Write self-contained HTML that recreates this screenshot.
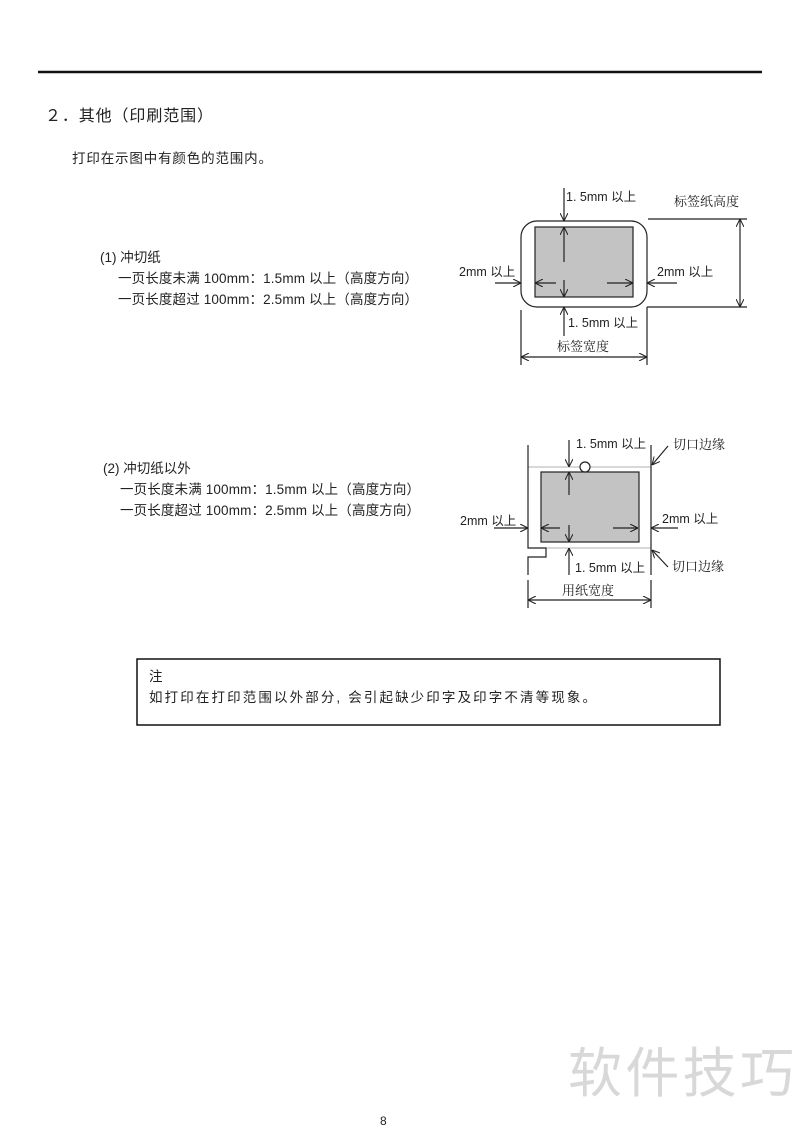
<!DOCTYPE html>
<html><head><meta charset="utf-8"><style>
html,body{margin:0;padding:0;background:#fff;}
svg{display:block;}
text{font-family:"Liberation Sans","Noto Sans CJK SC",sans-serif;fill:#222;}
.s{font-family:"Liberation Serif","Noto Serif CJK SC",serif;}
</style></head><body>
<svg width="800" height="1132" viewBox="0 0 800 1132" xmlns="http://www.w3.org/2000/svg">
<defs>
<marker id="a" viewBox="0 0 10 10" refX="10" refY="5" markerWidth="8" markerHeight="8" orient="auto-start-reverse" markerUnits="userSpaceOnUse"><path d="M0,0 L10,5 L0,10" fill="none" stroke="#222" stroke-width="1.3"/></marker>
</defs>
<line x1="38" y1="72" x2="762" y2="72" stroke="#111" stroke-width="2.5"/>
<text x="45" y="121" font-size="16" textLength="168">２．其他（印刷范围）</text>
<text x="72" y="163" font-size="13.5" textLength="200">打印在示图中有颜色的范围内。</text>

<text x="100" y="262" font-size="13.5">(1) 冲切纸</text>
<text x="118" y="283" font-size="13.5" textLength="300">一页长度未满 100mm：1.5mm 以上（高度方向）</text>
<text x="118" y="304" font-size="13.5" textLength="300">一页长度超过 100mm：2.5mm 以上（高度方向）</text>

<text x="103" y="473" font-size="13.5">(2)  冲切纸以外</text>
<text x="120" y="494" font-size="13.5" textLength="300">一页长度未满 100mm：1.5mm 以上（高度方向）</text>
<text x="120" y="515" font-size="13.5" textLength="300">一页长度超过 100mm：2.5mm 以上（高度方向）</text>

<!-- Diagram 1 -->
<g stroke="#222" stroke-width="1.2" fill="none">
<rect x="521" y="221" width="126" height="86" rx="16"/>
<rect x="535" y="227" width="98" height="70" fill="#c3c3c3"/>
<line x1="564" y1="188" x2="564" y2="221" marker-end="url(#a)"/>
<line x1="564" y1="262" x2="564" y2="227" marker-end="url(#a)"/>
<line x1="564" y1="280" x2="564" y2="297" marker-end="url(#a)"/>
<line x1="564" y1="336" x2="564" y2="307" marker-end="url(#a)"/>
<line x1="495" y1="283" x2="521" y2="283" marker-end="url(#a)"/>
<line x1="556" y1="283" x2="535" y2="283" marker-end="url(#a)"/>
<line x1="607" y1="283" x2="633" y2="283" marker-end="url(#a)"/>
<line x1="677" y1="283" x2="647" y2="283" marker-end="url(#a)"/>
<line x1="648" y1="219" x2="747" y2="219"/>
<line x1="647" y1="307" x2="747" y2="307"/>
<line x1="740" y1="219" x2="740" y2="307" marker-start="url(#a)" marker-end="url(#a)"/>
<line x1="521" y1="310" x2="521" y2="365"/>
<line x1="647" y1="307" x2="647" y2="365"/>
<line x1="521" y1="357" x2="647" y2="357" marker-start="url(#a)" marker-end="url(#a)"/>
</g>
<text x="566" y="201" font-size="12.5">1. 5mm 以上</text>
<text x="674" y="206" font-size="13" class="s">标签纸高度</text>
<text x="459" y="276" font-size="12.5">2mm 以上</text>
<text x="657" y="276" font-size="12.5">2mm 以上</text>
<text x="568" y="327" font-size="12.5">1. 5mm 以上</text>
<text x="557" y="351" font-size="13" class="s">标签宽度</text>

<!-- Diagram 2 -->
<g stroke="#222" stroke-width="1.2" fill="none">
<line x1="528" y1="467" x2="651" y2="467" stroke="#999" stroke-width="0.8"/>
<line x1="528" y1="548" x2="651" y2="548" stroke="#999" stroke-width="0.8"/>
<rect x="541" y="472" width="98" height="70" fill="#c3c3c3"/>
<path d="M528,445 L528,548 L546,548 L546,557 L528,557 L528,575"/>
<line x1="651" y1="445" x2="651" y2="575"/>
<circle cx="585" cy="467" r="5" fill="#fff"/>
<line x1="569" y1="440" x2="569" y2="467" marker-end="url(#a)"/>
<line x1="569" y1="495" x2="569" y2="472" marker-end="url(#a)"/>
<line x1="569" y1="525" x2="569" y2="542" marker-end="url(#a)"/>
<line x1="569" y1="575" x2="569" y2="548" marker-end="url(#a)"/>
<line x1="494" y1="528" x2="528" y2="528" marker-end="url(#a)"/>
<line x1="560" y1="528" x2="541" y2="528" marker-end="url(#a)"/>
<line x1="613" y1="528" x2="638" y2="528" marker-end="url(#a)"/>
<line x1="678" y1="528" x2="651" y2="528" marker-end="url(#a)"/>
<line x1="668" y1="446" x2="652" y2="465" marker-end="url(#a)"/>
<line x1="668" y1="567" x2="652" y2="550" marker-end="url(#a)"/>
<line x1="528" y1="580" x2="528" y2="608"/>
<line x1="651" y1="580" x2="651" y2="608"/>
<line x1="528" y1="600" x2="651" y2="600" marker-start="url(#a)" marker-end="url(#a)"/>
</g>
<text x="576" y="448" font-size="12.5">1. 5mm 以上</text>
<text x="673" y="449" font-size="13" class="s">切口边缘</text>
<text x="460" y="525" font-size="12.5">2mm 以上</text>
<text x="662" y="523" font-size="12.5">2mm 以上</text>
<text x="575" y="572" font-size="12.5">1. 5mm 以上</text>
<text x="672" y="571" font-size="13" class="s">切口边缘</text>
<text x="562" y="595" font-size="13" class="s">用纸宽度</text>

<!-- Note -->
<rect x="137" y="659" width="583" height="66" fill="none" stroke="#111" stroke-width="1.5"/>
<text x="149" y="681" font-size="13.5">注</text>
<text x="149" y="702" font-size="13.5" textLength="447">如打印在打印范围以外部分, 会引起缺少印字及印字不清等现象。</text>

<text x="380" y="1125" font-size="12">8</text>
<text x="568" y="1092" font-size="54" style="fill:#d8d8d8" textLength="226">软件技巧</text>
</svg>
</body></html>
